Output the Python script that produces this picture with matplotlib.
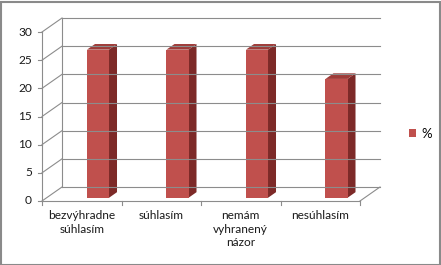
import matplotlib
matplotlib.use("Agg")
import matplotlib.pyplot as plt
from matplotlib.patches import Polygon, Patch, Rectangle

categories = ["bezvýhradne\nsúhlasím", "súhlasím", "nemám\nvyhranený\nnázor", "nesúhlasím"]
values = [26.3, 26.3, 26.3, 21.1]
yticks = [0, 5, 10, 15, 20, 25, 30]
series_name = "%"

plt.rcParams['font.family'] = ['Lato', 'DejaVu Sans']

W, H = 441, 265
fig = plt.figure(figsize=(W / 100, H / 100), dpi=100)
fig.patch.set_facecolor('white')

# axes placement in pixels
x0, x1 = 42, 380
yb, yt = 201, 18
ax = fig.add_axes([x0 / W, (H - yb) / H, (x1 - x0) / W, (yb - yt) / H])
ax.set_axis_off()

n = len(categories)
ymax = 30
pxx = 79.5            # px per category
pxy = 169 / 30        # px per value unit
DX = 20 / pxx         # depth offset in x units
DY = 14 / pxy         # depth offset in value units
ax.set_xlim(0, n + DX)
ax.set_ylim(0, ymax + DY)

grid_c = '#8c8c8c'
lw = 0.8
txt_c = '#1a1a1a'
fs = 8.6
# back wall gridlines and left wall diagonals
for v in yticks:
    ax.plot([DX, n + DX], [v + DY, v + DY], color=grid_c, lw=lw, clip_on=False)
    ax.plot([0, DX], [v, v + DY], color=grid_c, lw=lw, clip_on=False)
    ax.plot([-4 / pxx, 0], [v, v], color=grid_c, lw=lw, clip_on=False)
    ax.text(-10 / pxx, v, str(v), ha='right', va='center', fontsize=fs, color=txt_c)
# back left vertical
ax.plot([DX, DX], [DY, ymax + DY], color=grid_c, lw=lw, clip_on=False)
# front axis
ax.plot([0, 0], [0, ymax], color=grid_c, lw=lw, clip_on=False)
# floor
ax.plot([0, n], [0, 0], color=grid_c, lw=lw, clip_on=False)
ax.plot([n, n + DX], [0, DY], color=grid_c, lw=lw, clip_on=False)
for i in range(n + 1):
    ax.plot([i, i], [0, -4 / pxy], color=grid_c, lw=lw, clip_on=False)

# bars
front_c = '#C0504D'
side_c = '#7d2a28'
top_c = '#9e3b38'
f = 0.23      # depth of bar front face
d = 0.40      # bar depth
off = 0.508
bw = 0.277
for i, v in enumerate(values):
    xl = i + off + f * DX
    xr = xl + bw
    yb0 = f * DY
    ytp = v + f * DY
    ddx, ddy = d * DX, d * DY
    ax.add_patch(Polygon([[xr, yb0], [xr + ddx, yb0 + ddy], [xr + ddx, ytp + ddy], [xr, ytp]],
                         closed=True, facecolor=side_c, edgecolor='none'))
    ax.add_patch(Polygon([[xl, ytp], [xr, ytp], [xr + ddx, ytp + ddy], [xl + ddx, ytp + ddy]],
                         closed=True, facecolor=top_c, edgecolor='none'))
    ax.add_patch(Rectangle((xl, yb0), bw, v, facecolor=front_c, edgecolor='none'))

# category labels
for i, c in enumerate(categories):
    ax.text(i + 0.5, -9 / pxy, c, ha='center', va='top', fontsize=fs,
            color=txt_c, linespacing=1.3)

# legend
fig.legend(handles=[Patch(facecolor=front_c, edgecolor='none')], labels=[series_name],
           loc='center left', bbox_to_anchor=(409 / W, 1 - 134 / H), frameon=False,
           handlelength=0.55, handleheight=0.55, handletextpad=0.35, fontsize=9.5,
           borderaxespad=0, borderpad=0)

# chart border
fig.add_artist(Rectangle((0.5 / W, 0.5 / H), 1 - 2 / W, 1 - 2 / H, transform=fig.transFigure,
                         fill=False, edgecolor='#8a8a8a', lw=1.5))

fig.savefig('out.png', dpi=100)
